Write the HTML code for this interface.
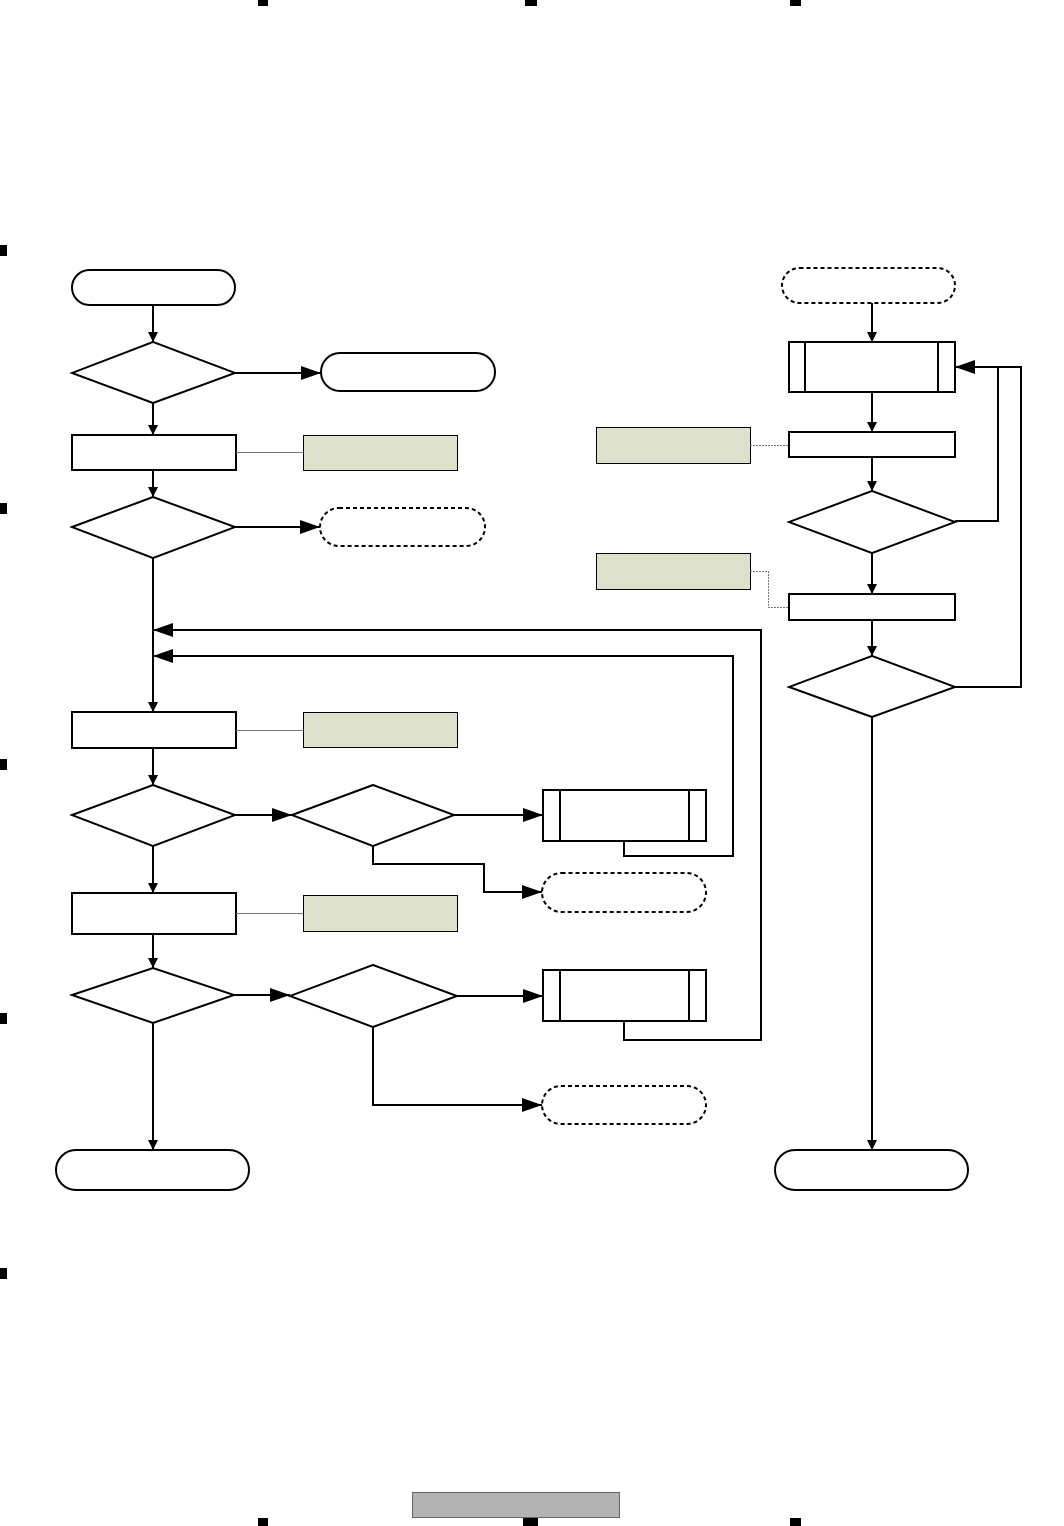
<!DOCTYPE html>
<html><head><meta charset="utf-8"><style>html,body{margin:0;padding:0;background:#fff}svg{display:block}</style></head>
<body>
<svg width="1064" height="1526" viewBox="0 0 1064 1526" xmlns="http://www.w3.org/2000/svg">
<defs>
<marker id="a" viewBox="0 0 10 10" refX="10" refY="5" markerWidth="10" markerHeight="10" markerUnits="userSpaceOnUse" orient="auto"><path d="M0,0 L10,5 L0,10 z" fill="#000"/></marker>
<marker id="b" viewBox="0 0 20 14" refX="20" refY="7" markerWidth="20" markerHeight="14" markerUnits="userSpaceOnUse" orient="auto"><path d="M0,0 L20,7 L0,14 z" fill="#000"/></marker>
</defs>
<g fill="#000">
<rect x="258" y="0" width="10" height="6"/><rect x="525" y="0" width="12" height="6"/><rect x="790" y="0" width="11" height="6"/>
<rect x="258" y="1518" width="10" height="8"/><rect x="523" y="1518" width="15" height="8"/><rect x="790" y="1518" width="11" height="8"/>
<rect x="0" y="245" width="7" height="11"/><rect x="0" y="503" width="7" height="11"/><rect x="0" y="759" width="7" height="11"/><rect x="0" y="1013" width="7" height="11"/><rect x="0" y="1268" width="7" height="11"/>
</g>
<rect x="412.5" y="1492.5" width="207" height="25" fill="#b3b3b3" stroke="#666" stroke-width="1"/>
<g fill="none" stroke="#000" stroke-width="2">
<!-- left column -->
<rect x="72" y="270" width="163" height="35" rx="17.5"/>
<polygon points="72,373 153,342 235,373 153,403" fill="#fff"/>
<rect x="321" y="353" width="174" height="38" rx="19"/>
<rect x="72" y="435" width="164" height="35"/>
<polygon points="72,527 153,497 235,527 153,558"/>
<rect x="320" y="508" width="165" height="38" rx="19" stroke-dasharray="4,3"/>
<rect x="72" y="712" width="164" height="36"/>
<polygon points="72,815 153,785 235,815 153,846"/>
<polygon points="292,815 373,785 454,815 373,846"/>
<rect x="543" y="790" width="163" height="51"/>
<line x1="560" y1="790" x2="560" y2="841"/><line x1="689" y1="790" x2="689" y2="841"/>
<rect x="542" y="873" width="164" height="39" rx="19.5" stroke-dasharray="4,3"/>
<rect x="72" y="893" width="164" height="41"/>
<polygon points="72,995 153,968 234,995 153,1023"/>
<polygon points="290,996 373,965 457,996 373,1027"/>
<rect x="543" y="970" width="163" height="51"/>
<line x1="560" y1="970" x2="560" y2="1021"/><line x1="689" y1="970" x2="689" y2="1021"/>
<rect x="542" y="1086" width="164" height="38" rx="19" stroke-dasharray="4,3"/>
<rect x="56" y="1150" width="193" height="40" rx="20"/>
<!-- connectors left -->
<line x1="153" y1="305" x2="153" y2="342" marker-end="url(#a)"/>
<line x1="235" y1="373" x2="321" y2="373" marker-end="url(#b)"/>
<line x1="153" y1="403" x2="153" y2="435" marker-end="url(#a)"/>
<line x1="153" y1="470" x2="153" y2="497" marker-end="url(#a)"/>
<line x1="235" y1="527" x2="320" y2="527" marker-end="url(#b)"/>
<line x1="153" y1="558" x2="153" y2="712" marker-end="url(#a)"/>
<line x1="153" y1="748" x2="153" y2="785" marker-end="url(#a)"/>
<line x1="235" y1="815" x2="292" y2="815" marker-end="url(#b)"/>
<line x1="454" y1="815" x2="543" y2="815" marker-end="url(#b)"/>
<polyline points="624,841 624,856 733,856 733,656 153,656" marker-end="url(#b)"/>
<polyline points="373,846 373,864 484,864 484,892 542,892" marker-end="url(#b)"/>
<line x1="153" y1="846" x2="153" y2="893" marker-end="url(#a)"/>
<line x1="153" y1="934" x2="153" y2="968" marker-end="url(#a)"/>
<line x1="234" y1="995" x2="290" y2="995" marker-end="url(#b)"/>
<line x1="457" y1="996" x2="543" y2="996" marker-end="url(#b)"/>
<polyline points="624,1021 624,1040 761,1040 761,630 153,630" marker-end="url(#b)"/>
<polyline points="373,1027 373,1105 542,1105" marker-end="url(#b)"/>
<line x1="153" y1="1023" x2="153" y2="1150" marker-end="url(#a)"/>
<!-- right column -->
<rect x="782" y="268" width="173" height="35" rx="17.5" stroke-dasharray="4,3"/>
<rect x="789" y="342" width="166" height="50"/>
<line x1="805" y1="342" x2="805" y2="392"/><line x1="938" y1="342" x2="938" y2="392"/>
<rect x="789" y="432" width="166" height="25"/>
<polygon points="789,522 872,491 955,522 872,553"/>
<rect x="789" y="594" width="166" height="26"/>
<polygon points="789,687 872,656 955,687 872,717"/>
<rect x="775" y="1150" width="193" height="40" rx="20"/>
<line x1="872" y1="303" x2="872" y2="342" marker-end="url(#a)"/>
<line x1="872" y1="392" x2="872" y2="432" marker-end="url(#a)"/>
<line x1="872" y1="457" x2="872" y2="491" marker-end="url(#a)"/>
<line x1="872" y1="553" x2="872" y2="594" marker-end="url(#a)"/>
<line x1="872" y1="620" x2="872" y2="656" marker-end="url(#a)"/>
<line x1="872" y1="717" x2="872" y2="1150" marker-end="url(#a)"/>
<polyline points="955,521 998,521 998,367"/>
<polyline points="955,687 1021,687 1021,367 955,367" marker-end="url(#b)"/>
</g>
<!-- notes -->
<g fill="#dde1cb" stroke="#000" stroke-width="1">
<rect x="303.5" y="435.5" width="154" height="35"/>
<rect x="303.5" y="712.5" width="154" height="35"/>
<rect x="303.5" y="895.5" width="154" height="36"/>
<rect x="596.5" y="427.5" width="154" height="36"/>
<rect x="596.5" y="553.5" width="154" height="36"/>
</g>
<g fill="none" stroke="#777" stroke-width="1">
<line x1="236" y1="452.5" x2="303" y2="452.5"/>
<line x1="236" y1="730.5" x2="303" y2="730.5"/>
<line x1="236" y1="913.5" x2="303" y2="913.5"/>
<line x1="750" y1="445.5" x2="789" y2="445.5" stroke-dasharray="2,1"/>
<polyline points="750,571.5 768.5,571.5 768.5,607.5 789,607.5" stroke-dasharray="2,1"/>
</g>
</svg>
</body></html>
